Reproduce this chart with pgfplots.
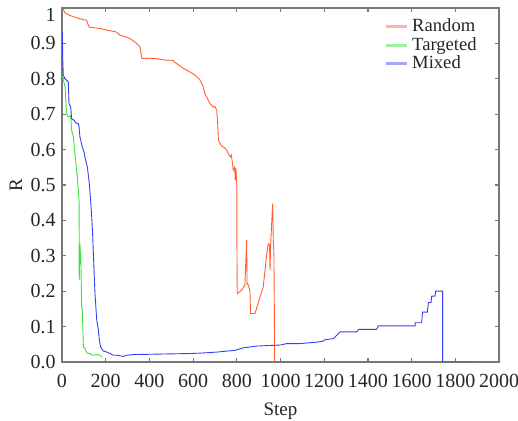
\documentclass[border=0pt]{standalone}
\usepackage{fontspec}
\setmainfont{Liberation Serif}
\usepackage{pgfplots}
\pgfplotsset{compat=1.18}

\definecolor{cRand}{RGB}{255,95,50}
\definecolor{cTarg}{RGB}{60,225,60}
\definecolor{cMix}{RGB}{50,65,245}
\definecolor{lRand}{RGB}{255,178,170}
\definecolor{lTarg}{RGB}{160,240,160}
\definecolor{lMix}{RGB}{160,168,255}
\definecolor{frame}{RGB}{120,120,120}

\begin{document}
\fontsize{9}{10}\selectfont
\begin{tikzpicture}
\begin{axis}[
  name=ax,
  scale only axis,
  width=218.5pt, height=177pt,
  xmin=0, xmax=2000, ymin=0, ymax=1,
  xtick={0,200,...,2000},
  ytick={0,0.1,...,0.9},
  yticklabels={0.0,0.1,0.2,0.3,0.4,0.5,0.6,0.7,0.8,0.9},
  extra y ticks={1},
  extra y tick labels={1},
  extra y tick style={yticklabel style={yshift=-3.5pt}},
  /pgf/number format/assume math mode=true,
  xticklabel style={/pgf/number format/1000 sep={}, yshift=-3pt},
  tick align=inside,
  tick pos=both,
  major tick length=2pt,
  axis line style={frame, line width=0.7pt},
  tick style={frame, line width=0.6pt},
  tick label style={font=\fontsize{10}{11}\selectfont\rmfamily, text=black!85},
  xlabel={Step}, ylabel={R},
  label style={font=\fontsize{9.5}{10}\selectfont, text=black!85},
  xlabel style={yshift=-1.5pt},
  ylabel style={yshift=-2pt},
  legend style={at={(rel axis cs:0.736,0.982)}, anchor=north west,
    draw=none, fill=none, inner sep=0pt, row sep=-2.5pt,
    font=\fontsize{9.3}{10}\selectfont, text=black!85},
  legend image code/.code={\draw[#1] (0pt,0pt) -- (10.5pt,0pt);},
  legend cell align=left,
]
\addlegendimage{lRand, line width=1.6pt}
\addlegendentry{Random}
\addlegendimage{lTarg, line width=1.6pt}
\addlegendentry{Targeted}
\addlegendimage{lMix, line width=1.6pt}
\addlegendentry{Mixed}

% Random
\addplot[cRand, line width=0.45pt, forget plot] coordinates {
(0,1.0)(3,1.0)(14,0.986)(40,0.978)(80,0.97)(113,0.965)(118,0.955)(125,0.946)
(150,0.944)(174,0.942)(210,0.937)(250,0.932)(265,0.923)(296,0.918)(320,0.91)
(342,0.9)(357,0.89)(362,0.87)(366,0.857)(400,0.858)(433,0.857)(470,0.853)
(509,0.852)(515,0.847)(525,0.843)(550,0.832)(586,0.819)(610,0.81)(632,0.796)
(645,0.78)(654,0.758)(665,0.745)(677,0.73)(692,0.72)(700,0.722)(708,0.711)
(712,0.68)(716,0.626)(730,0.61)(745,0.605)(754,0.598)(769,0.579)(775,0.585)
(784,0.542)(790,0.55)(793,0.513)(796,0.547)(800,0.5)(800,0.38)(802,0.193)
(822,0.203)(837,0.217)(845,0.344)(847,0.22)(850,0.221)(860,0.203)(863,0.137)
(883,0.137)(895,0.16)(906,0.184)(921,0.212)(929,0.259)(937,0.306)(944,0.334)
(950,0.33)(952,0.259)(955,0.334)(964,0.447)(967,0.344)(970,0.3)(972,0.127)
(973,0)(978,0)
};
% Targeted
\addplot[cTarg, line width=0.45pt, forget plot] coordinates {
(0,0.81)(3,0.805)(14,0.777)(21,0.702)(29,0.692)(40,0.697)(44,0.655)(52,0.636)
(59,0.589)(70,0.523)(78,0.457)(79,0.344)(78,0.287)(79,0.231)(82,0.334)(85,0.3)
(87,0.268)(90,0.155)(93,0.146)(98,0.042)(105,0.04)(110,0.03)(116,0.025)
(128,0.024)(135,0.02)(143,0.019)(159,0.021)(174,0.019)(182,0.014)(186,0.014)
};
% Mixed
\addplot[cMix, line width=0.45pt, forget plot] coordinates {
(0,0.93)(2,0.93)(3,0.862)(6,0.81)(14,0.8)(21,0.796)(29,0.791)(32,0.73)(40,0.72)
(44,0.687)(55,0.683)(64,0.675)(75,0.673)(78,0.664)(82,0.636)(93,0.607)
(101,0.593)(108,0.57)(116,0.551)(125,0.504)(131,0.457)(136,0.41)(140,0.363)
(146,0.268)(151,0.193)(156,0.146)(159,0.118)(166,0.094)(171,0.061)(177,0.042)
(189,0.031)(205,0.028)(220,0.024)(235,0.019)(250,0.019)(281,0.016)(296,0.019)
(326,0.021)(418,0.022)(586,0.024)(632,0.025)(708,0.028)(792,0.033)(830,0.04)
(891,0.045)(1000,0.048)(1028,0.052)(1089,0.052)(1166,0.056)(1196,0.059)
(1204,0.063)(1242,0.066)(1257,0.075)(1272,0.085)(1349,0.085)(1357,0.092)
(1440,0.092)(1448,0.102)(1616,0.102)(1616,0.111)(1646,0.111)(1650,0.141)
(1672,0.141)(1677,0.168)(1689,0.168)(1692,0.186)(1707,0.186)(1710,0.2)
(1742,0.2)(1742,0)(1890,0)
};
\end{axis}
\pgfresetboundingbox
\path[use as bounding box] ([shift={(-31pt,-29.5pt)}]ax.south west)
  rectangle ([shift={(9.5pt,4pt)}]ax.north east);
\end{tikzpicture}
\end{document}
